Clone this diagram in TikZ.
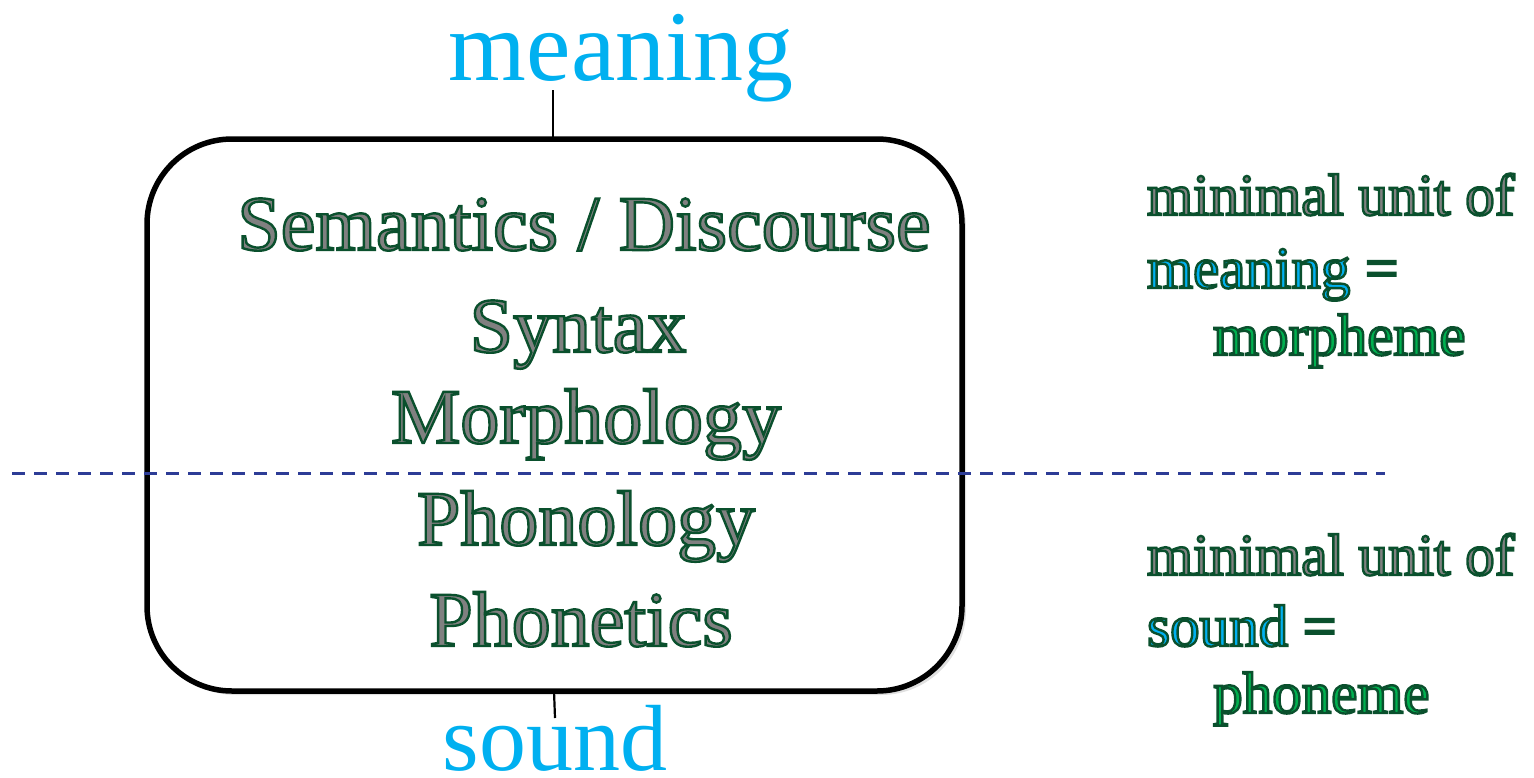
\documentclass[tikz,border=0pt]{standalone}
\usepackage{fontspec}
\setmainfont{Liberation Serif}
\definecolor{dkgreen}{RGB}{10,80,45}
\definecolor{cyanblue}{RGB}{0,176,240}
\definecolor{dashblue}{RGB}{45,60,150}
% outlined text: #1 outline colour, #2 fill rgb, #3 text
\newcommand\otext[3]{{\color{#1}\special{pdf:code 2 Tr 2.4 w #2 rg}#3\special{pdf:code 0 Tr}}}
\newcommand\gtext[1]{\otext{dkgreen}{0.5 0.5 0.5}{#1}}
\newcommand\ctext[1]{\otext{dkgreen}{0 0.69 0.94}{#1}}
\newcommand\btext[1]{\otext{dkgreen}{0 0.69 0.31}{#1}}
\newcommand\ftext[1]{\otext{dkgreen}{0.04 0.31 0.18}{#1}}
\tikzset{
  boxtext/.style={anchor=base, inner sep=0pt, font=\fontsize{78}{78}\selectfont},
  sidetext/.style={anchor=base west, inner sep=0pt, font=\fontsize{59}{59}\selectfont},
  poletext/.style={anchor=base, inner sep=0pt, text=cyanblue, font=\fontsize{100}{100}\selectfont},
  levelbox/.style={draw=black, line width=5.5pt, rounded corners=85pt},
  tick/.style={draw=black, line width=2.2pt},
  divider/.style={draw=dashblue, line width=3pt, dash pattern=on 13pt off 9pt}
}
\begin{document}
\begin{tikzpicture}[x=1pt,y=-1pt]
\useasboundingbox (0,0) rectangle (1534,777);
% shadow of box
\fill[black!12, rounded corners=85pt] (151,143) rectangle (966,695);
\fill[white, rounded corners=85pt] (147,139) rectangle (962,691);
\draw[levelbox] (147,139) rectangle (962,691);
\coordinate (boxtop) at (553,139);
\coordinate (boxbot) at (554,691);
% divider
\coordinate (dl) at (12,473);
\coordinate (dr) at (1385,473);
\draw[divider] (dl) -- (dr);
% pole labels
\node[poletext] (meaning) at (621,80) {meaning};
\node[poletext, font=\fontsize{94}{94}\selectfont] (sound) at (555,770) {sound};
\draw[tick] (553,90) -- (boxtop);
\draw[tick] (boxbot) -- (555,718);
% level names
\node[boxtext] (sem) at (584,250) {\gtext{Semantics / Discourse}};
\node[boxtext] (syn) at (578,352) {\gtext{Syntax}};
\node[boxtext] (mor) at (586,443) {\gtext{Morphology}};
\node[boxtext] (pho) at (586,545) {\gtext{Phonology}};
\node[boxtext] (phn) at (581,646) {\gtext{Phonetics}};
% side notes
\node[sidetext] (m1) at (1147,215) {\gtext{minimal unit of}};
\node[sidetext] (m2) at (1147,288) {\ctext{meaning} \ftext{=}};
\node[sidetext] (m3) at (1213,355) {\btext{morpheme}};
\node[sidetext] (s1) at (1147,575) {\gtext{minimal unit of}};
\node[sidetext] (s2) at (1147,646) {\ctext{sound} \ftext{=}};
\node[sidetext] (s3) at (1213,713) {\btext{phoneme}};
\end{tikzpicture}
\end{document}
